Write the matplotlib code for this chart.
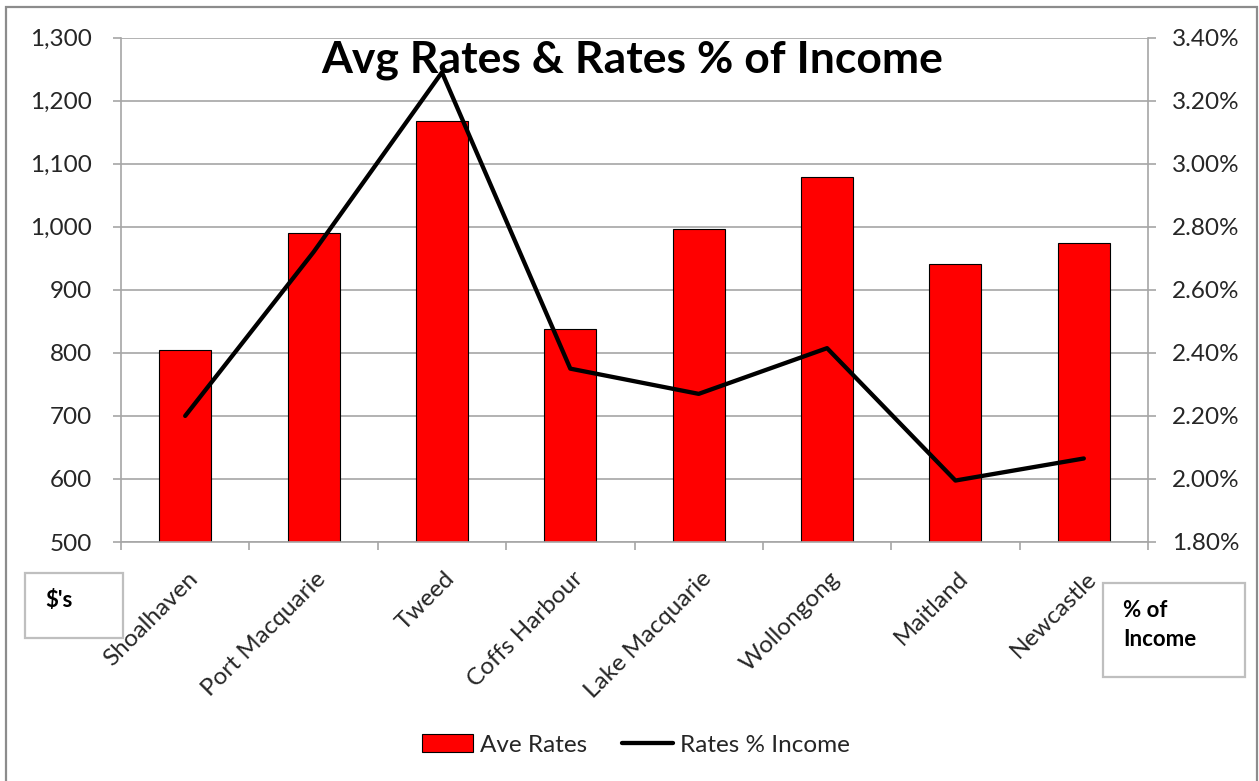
import numpy as np
import matplotlib
matplotlib.use('Agg')
import matplotlib.pyplot as plt
from matplotlib.patches import Rectangle, Patch
from matplotlib.lines import Line2D
from matplotlib.ticker import FuncFormatter
from matplotlib.transforms import ScaledTranslation

plt.rcParams['font.family'] = ['Lato', 'DejaVu Sans']

# council areas and their figures
regions = ['Shoalhaven', 'Port Macquarie', 'Tweed', 'Coffs Harbour',
           'Lake Macquarie', 'Wollongong', 'Maitland', 'Newcastle']
ave_rates = [804, 990, 1168, 838, 997, 1079, 941, 975]           # $ per year
rates_pct_income = [2.20, 2.72, 3.29, 2.35, 2.27, 2.415, 1.995, 2.065]  # %

W, H = 1259, 781
GRID = '#a6a6a6'
TXT = '#262626'
FS = 17.5

fig = plt.figure(figsize=(W / 100, H / 100), dpi=100)
ax = fig.add_axes([121 / W, 1 - 542 / H, 1027 / W, 504.3 / H])

x = np.arange(len(regions))
ax.bar(x, ave_rates, width=0.405, color='#ff0000', edgecolor='black',
       linewidth=0.8, zorder=2)
ax.set_xlim(-0.5, len(regions) - 0.5)
ax.set_ylim(500, 1300)
ax.set_yticks(range(500, 1301, 100))
ax.yaxis.set_major_formatter(FuncFormatter(lambda v, p: f'{v:,.0f}'))
ax.grid(axis='y', color=GRID, linewidth=1.2)
ax.set_axisbelow(True)

# category boundaries get the tick marks, names sit on the centres
ax.set_xticks(np.arange(-0.5, len(regions), 1))
ax.set_xticklabels([])
ax.set_xticks(x, regions, minor=True)
ax.tick_params(axis='x', which='major', length=6, width=1.2, color=GRID)
ax.tick_params(axis='x', which='minor', length=0, pad=24, labelsize=FS,
               labelcolor=TXT)
shift = ScaledTranslation(9 / 100, 0, fig.dpi_scale_trans)
for lab in ax.get_xticklabels(minor=True):
    lab.set_rotation(45)
    lab.set_ha('right')
    lab.set_va('center')
    lab.set_rotation_mode('anchor')
    lab.set_transform(lab.get_transform() + shift)

ax.tick_params(axis='y', length=6, width=1.2, color=GRID, pad=15,
               labelsize=FS, labelcolor=TXT)
for s in ['top', 'right']:
    ax.spines[s].set_visible(False)
for s in ['left', 'bottom']:
    ax.spines[s].set_color(GRID)
    ax.spines[s].set_linewidth(1.2)

# secondary axis: rates as % of income
ax2 = ax.twinx()
ax2.plot(x, rates_pct_income, color='black', linewidth=3.1,
         solid_capstyle='round', solid_joinstyle='round')
ax2.set_ylim(1.8, 3.4)
ax2.set_yticks(np.arange(1.8, 3.41, 0.2))
ax2.yaxis.set_major_formatter(FuncFormatter(lambda v, p: f'{v:.2f}%'))
ax2.tick_params(axis='y', length=6, width=1.2, color=GRID, pad=11,
                labelsize=FS, labelcolor=TXT)
for s in ['top', 'left', 'bottom']:
    ax2.spines[s].set_visible(False)
ax2.spines['right'].set_color(GRID)
ax2.spines['right'].set_linewidth(1.2)

fig.text(632 / W, 1 - 73 / H, 'Avg Rates & Rates % of Income', ha='center',
         va='baseline', fontsize=32, fontweight='bold', color='black')

# outer chart border
fig.patches.append(Rectangle((6 / W, -0.02), 1251 / W, 1.02 - 7 / H,
                             transform=fig.transFigure, fill=False,
                             edgecolor='#8c8c8c', linewidth=1.6))

# unit boxes under each axis
def unit_box(x0, y0, x1, y1, text, tx, ty):
    fig.patches.append(Rectangle((x0 / W, 1 - y1 / H), (x1 - x0) / W,
                                 (y1 - y0) / H, transform=fig.transFigure,
                                 fill=False, edgecolor='#bfbfbf',
                                 linewidth=1.6))
    fig.text(tx / W, 1 - ty / H, text, ha='left', va='baseline', fontsize=16,
             fontweight='bold', color='black', linespacing=1.3)

unit_box(25, 573, 123, 638, "$'s", 45, 607)
unit_box(1103, 583, 1245, 677, 'Income', 1123, 646)
fig.text(1123 / W, 1 - 617 / H, '% of', ha='left', va='baseline', fontsize=16,
         fontweight='bold', color='black')

handles = [Patch(facecolor='#ff0000', edgecolor='black', linewidth=0.8),
           Line2D([], [], color='black', linewidth=3.1, solid_capstyle='round')]
fig.legend(handles, ['Ave Rates', 'Rates % Income'], loc='center',
           bbox_to_anchor=(636 / W, 1 - 745 / H), ncol=2, frameon=False,
           fontsize=FS, handlelength=2.1, handleheight=0.7,
           handletextpad=0.3, columnspacing=1.4, labelcolor=TXT)

fig.savefig('out.png', dpi=100, facecolor='white')
